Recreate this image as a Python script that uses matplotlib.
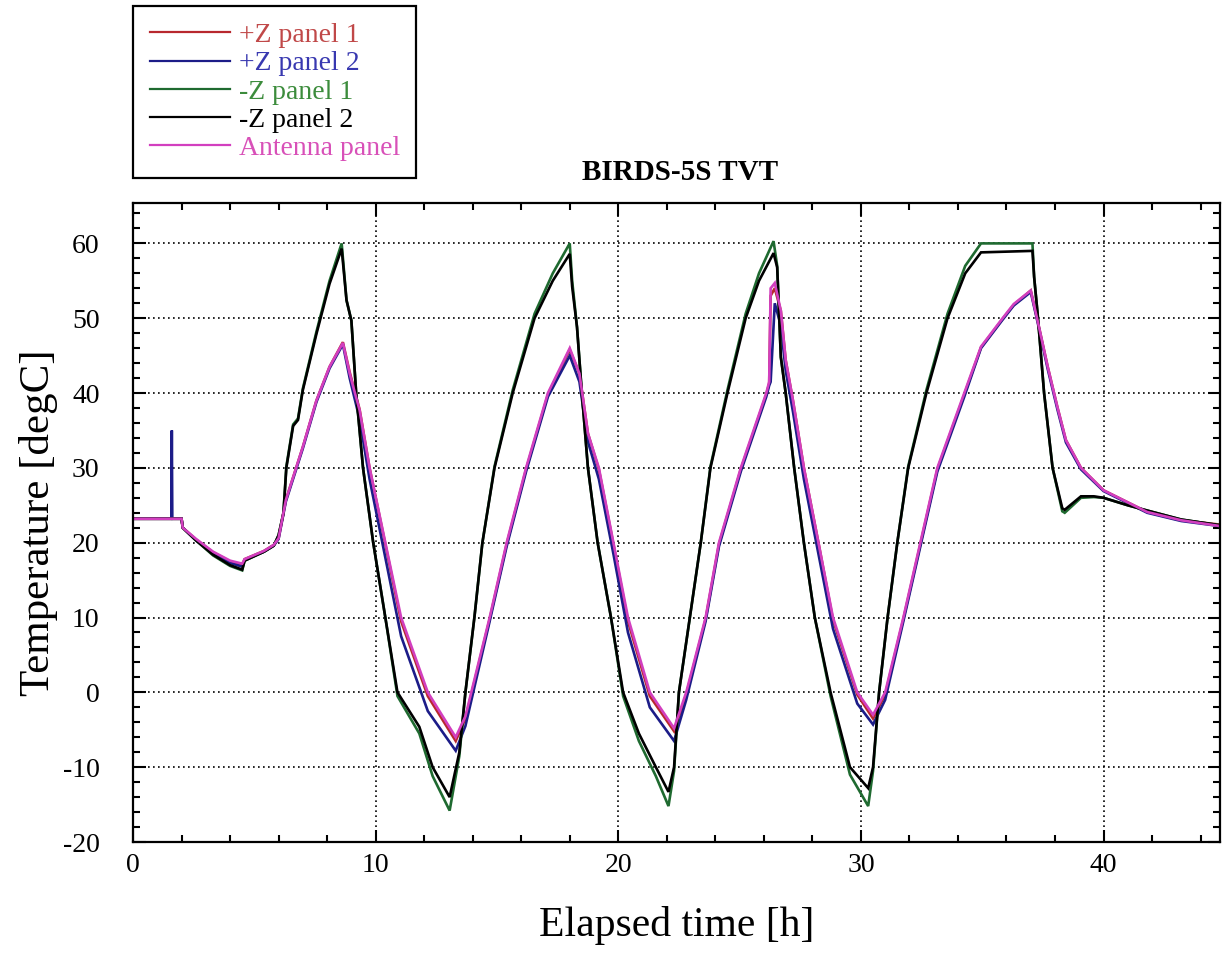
import matplotlib
matplotlib.use('Agg')
import matplotlib.pyplot as plt
from matplotlib.ticker import MultipleLocator

plt.rcParams['font.family'] = ['Liberation Serif', 'DejaVu Serif']
plt.rcParams['axes.unicode_minus'] = False

# ---------------- data ----------------
# -Z panels share one time base [h]
t_minusZ = [0, 2.0, 2.05, 2.6, 3.3, 4.0, 4.5, 4.6, 5.4, 5.8, 6.0, 6.2, 6.32, 6.6, 6.8,
            7.0, 7.56, 8.1, 8.6, 8.8, 9.0, 9.2, 9.48, 9.9, 10.4, 10.9, 11.8, 12.35,
            13.05, 13.45, 13.7, 14.07, 14.4, 14.9, 15.65, 16.55, 17.3, 18.0, 18.1,
            18.3, 18.5, 18.75, 19.15, 19.7, 20.2, 20.85, 21.55, 22.07, 22.3, 22.5,
            22.95, 23.4, 23.8, 24.5, 25.25, 25.8, 26.4, 26.55, 26.7, 26.9, 27.25,
            27.65, 28.1, 28.75, 29.55, 30.3, 30.5, 30.75, 31.1, 31.5, 31.95, 32.7,
            33.57, 34.3, 34.95, 37.07, 37.14, 37.28, 37.55, 37.9, 38.3, 38.4, 39.07,
            39.6, 40.0, 41.0, 41.8, 43.2, 44.85]
T_minusZ1 = [23.2, 23.2, 22.0, 20.3, 18.3, 16.9, 16.3, 17.6, 18.8, 19.6, 21.0, 24.0,
             30.2, 35.8, 36.6, 40.6, 48.2, 55.0, 60.0, 52.4, 49.7, 39.9, 30.0, 20.0,
             10.0, -0.5, -5.5, -11.2, -15.8, -8.5, 0.0, 10.0, 20.0, 30.2, 40.4, 50.6,
             56.0, 60.0, 55.0, 48.8, 40.0, 30.0, 20.0, 10.0, -0.5, -6.5, -11.2, -15.2,
             -10.5, 0.0, 10.0, 20.0, 30.2, 40.4, 50.6, 56.0, 60.3, 57.0, 44.8, 40.0,
             30.0, 20.0, 10.0, -0.5, -11.0, -15.2, -10.5, 0.0, 10.0, 20.0, 30.2, 40.4,
             50.6, 57.0, 60.0, 60.0, 55.5, 50.7, 40.0, 30.0, 24.2, 24.0, 26.0, 26.1,
             26.0, 25.0, 24.3, 23.1, 22.3]
T_minusZ2 = [23.2, 23.2, 22.0, 20.3, 18.4, 17.0, 16.4, 17.6, 18.8, 19.6, 21.0, 23.9,
             30.0, 35.6, 36.4, 40.4, 47.9, 54.6, 59.3, 52.4, 49.7, 39.9, 30.0, 20.0,
             10.0, 0.0, -4.6, -10.0, -14.0, -8.0, 0.0, 10.0, 20.0, 30.0, 40.0, 50.0,
             55.0, 58.6, 54.2, 48.8, 40.0, 30.0, 20.0, 10.0, 0.0, -5.5, -10.0, -13.3,
             -10.0, 0.0, 10.0, 20.0, 30.0, 40.0, 50.0, 55.0, 58.7, 56.8, 44.8, 40.0,
             30.0, 20.0, 10.0, 0.0, -10.0, -12.8, -10.0, 0.0, 10.0, 20.0, 30.0, 40.0,
             50.0, 56.0, 58.8, 59.0, 55.5, 50.7, 40.0, 30.0, 24.6, 24.4, 26.2, 26.2,
             26.0, 25.0, 24.3, 23.1, 22.3]

# +Z panels and antenna panel share one time base [h]
t_plusZ = [0, 1.58, 1.6, 1.62, 2.0, 2.05, 2.6, 3.3, 4.0, 4.5, 4.6, 5.4, 5.8, 6.0, 6.3,
           7.0, 7.56, 8.1, 8.65, 8.93, 9.34, 9.75, 10.4, 11.05, 12.15, 13.3, 13.7,
           14.7, 15.4, 16.2, 17.1, 18.0, 18.4, 18.75, 19.2, 19.8, 20.4, 21.3, 22.3,
           22.8, 23.6, 24.15, 25.05, 26.1, 26.22, 26.28, 26.45, 26.7, 26.9, 27.2,
           27.65, 28.25, 28.85, 29.85, 30.5, 31.0, 31.75, 32.45, 33.15, 34.26, 34.95,
           35.84, 36.3, 37.0, 37.28, 37.7, 38.1, 38.45, 39.07, 40.0, 41.8, 43.2, 44.85]
T_plusZ1 = [23.2, 23.2, 23.2, 23.2, 23.2, 22.0, 20.4, 18.7, 17.5, 17.0, 17.8, 18.9,
            19.7, 20.6, 25.7, 32.8, 39.0, 43.5, 46.8, 42.8, 37.8, 30.0, 19.8, 9.5,
            -0.5, -6.5, -3.5, 9.8, 19.8, 29.8, 39.8, 45.8, 42.6, 34.6, 29.8, 19.8,
            9.5, -0.5, -5.2, -0.3, 9.8, 19.8, 29.8, 39.8, 41.3, 53.0, 54.0, 51.0, 44.4,
            39.0, 30.0, 20.0, 9.7, -0.3, -3.5, -0.3, 9.8, 19.8, 29.8, 39.8, 46.1, 49.9,
            51.8, 53.7, 49.7, 43.5, 38.1, 33.7, 30.0, 27.0, 24.1, 23.0, 22.4]
T_plusZ2 = [23.2, 23.2, 35.0, 23.2, 23.2, 22.0, 20.3, 18.6, 17.3, 16.8, 17.7, 18.8,
            19.6, 20.5, 25.5, 32.6, 38.8, 43.3, 46.5, 42.0, 36.5, 28.5, 18.0, 7.5,
            -2.5, -7.8, -4.5, 9.5, 19.5, 29.5, 39.5, 45.0, 41.5, 33.5, 28.5, 18.5,
            8.0, -2.0, -6.5, -1.0, 9.5, 19.5, 29.5, 39.5, 41.0, 41.5, 52.0, 49.0, 43.0,
            37.5, 28.5, 18.5, 8.5, -1.5, -4.3, -1.0, 9.5, 19.5, 29.5, 39.5, 46.0, 49.8,
            51.7, 53.5, 49.5, 43.2, 37.8, 33.4, 29.8, 26.9, 24.0, 22.9, 22.2]
T_antenna = [23.2, 23.2, 23.2, 23.2, 23.2, 22.0, 20.5, 18.8, 17.6, 17.2, 17.8, 18.9,
             19.7, 20.6, 25.7, 32.8, 39.0, 43.5, 46.7, 42.6, 37.7, 30.0, 20.0, 10.0,
             0.0, -6.0, -3.2, 10.0, 20.0, 30.0, 40.0, 46.0, 42.6, 34.6, 30.0, 20.0,
             10.0, 0.0, -4.8, 0.0, 10.0, 20.0, 30.0, 40.0, 41.5, 54.0, 54.7, 51.0, 44.4,
             39.0, 30.0, 20.0, 10.0, 0.0, -3.0, 0.0, 10.0, 20.0, 30.0, 40.0, 46.2, 50.0,
             51.9, 53.7, 49.7, 43.5, 38.1, 33.7, 30.0, 27.0, 24.1, 23.0, 22.2]

labels = ['+Z panel 1', '+Z panel 2', '-Z panel 1', '-Z panel 2', 'Antenna panel']
line_colors = ['#b8282e', '#1c1c88', '#1f6a30', '#000000', '#d23fbf']
text_colors = ['#c04848', '#3838b0', '#3c8c3c', '#000000', '#d850b8']

# ---------------- figure ----------------
W, H = 1224, 956
fig = plt.figure(figsize=(W / 100, H / 100), dpi=100)
x0, x1, y0, y1 = 133, 1220, 203, 842
ax = fig.add_axes([x0 / W, 1 - y1 / H, (x1 - x0) / W, (y1 - y0) / H])

series = [(t_plusZ, T_plusZ1), (t_plusZ, T_plusZ2), (t_minusZ, T_minusZ1),
          (t_minusZ, T_minusZ2), (t_plusZ, T_antenna)]
handles = []
for (tt, vv), lab, c in zip(series, labels, line_colors):
    h, = ax.plot(tt, vv, color=c, lw=1.9, label=lab, solid_joinstyle='miter')
    handles.append(h)

ax.set_xlim(0, 44.8)
ax.set_ylim(-20, 65.4)
ax.xaxis.set_major_locator(MultipleLocator(10))
ax.xaxis.set_minor_locator(MultipleLocator(2))
ax.yaxis.set_major_locator(MultipleLocator(10))
ax.yaxis.set_minor_locator(MultipleLocator(2))
ax.grid(True, which='major', color='black', linestyle=(0, (1, 2)), linewidth=1.2)
ax.tick_params(which='both', direction='in', top=True, right=True, width=1.5,
               labelsize=20)
ax.tick_params(which='major', length=9)
ax.tick_params(which='minor', length=5)
ax.tick_params(axis='y', pad=24)
ax.tick_params(axis='x', pad=8)
for sp in ax.spines.values():
    sp.set_linewidth(1.6)

ax.set_xlabel('Elapsed time [h]', fontsize=30)
ax.set_ylabel('Temperature [degC]', fontsize=31)
ax.xaxis.set_label_coords(0.5, -0.100)
ax.yaxis.set_label_coords(-0.069, 0.5)

fig.text(680 / W, 1 - 173 / H, 'BIRDS-5S TVT', ha='center', va='center',
         fontsize=21, fontweight='bold')

leg = fig.legend(handles=handles, labels=labels, loc='upper left',
                 bbox_to_anchor=(133 / W, 1 - 6 / H), borderaxespad=0,
                 fontsize=20, handlelength=2.9, handletextpad=0.3,
                 labelspacing=0.1, borderpad=0.6, fancybox=False,
                 framealpha=1, edgecolor='black')
leg.get_frame().set_linewidth(1.6)
for line in leg.get_lines():
    line.set_linewidth(1.6)
for txt, c in zip(leg.get_texts(), text_colors):
    txt.set_color(c)

fig.savefig('out.png', dpi=100)
